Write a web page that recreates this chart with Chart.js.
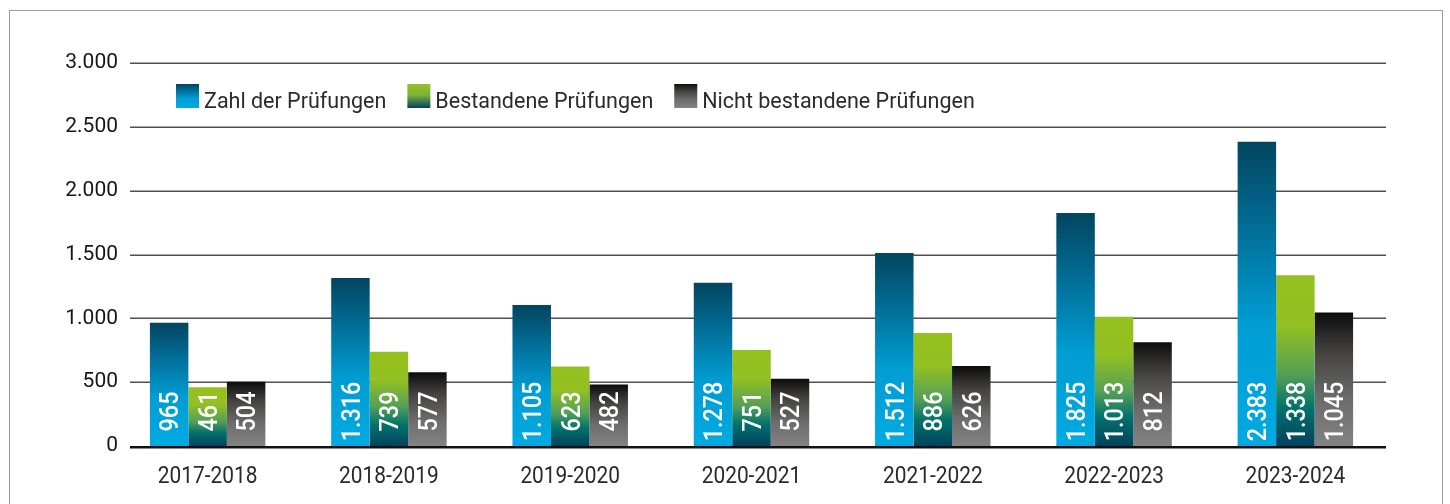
<!DOCTYPE html>
<html>
<head>
<meta charset="utf-8">
<script src="https://cdn.jsdelivr.net/npm/chart.js@4.4.1/dist/chart.umd.min.js"></script>
<style>
  html, body { margin: 0; padding: 0; background: #fff; overflow: hidden; }
  #wrap { position: relative; width: 1450px; height: 504px; }
  #frame { position: absolute; left: 9px; top: 10px; width: 1434px; height: 600px; border: 1.5px solid #9c9c9c; box-sizing: border-box; }
  canvas { position: absolute; left: 0; top: 0; }
</style>
</head>
<body>
<div id="wrap">
  <div id="frame"></div>
  <canvas id="c" width="1450" height="504"></canvas>
</div>
<script>
const categories = ['2017-2018', '2018-2019', '2019-2020', '2020-2021', '2021-2022', '2022-2023', '2023-2024'];
const seriesNames = ['Zahl der Prüfungen', 'Bestandene Prüfungen', 'Nicht bestandene Prüfungen'];
const zahlDerPruefungen = [965, 1316, 1105, 1278, 1512, 1825, 2383];
const bestandenePruefungen = [461, 739, 623, 751, 886, 1013, 1338];
const nichtBestandenePruefungen = [504, 577, 482, 527, 626, 812, 1045];
const yTicks = [0, 500, 1000, 1500, 2000, 2500, 3000];

function fmt(v) {
  return String(Math.round(v)).replace(/\B(?=(\d{3})+(?!\d))/g, '.');
}

const gradStops = [
  [[0, '#03455f'], [0.3, '#02709a'], [0.6, '#009dd3'], [1, '#00aae1']],
  [[0, '#95c11f'], [0.3, '#92bf22'], [0.58, '#55a057'], [0.78, '#00716c'], [1, '#03425e']],
  [[0, '#0c0c0c'], [0.3, '#454342'], [0.65, '#6c6c6c'], [1, '#838383']]
];
const solid = ['#0090c4', '#7bb535', '#555'];

function makeGrad(ctx, stops, y0, y1) {
  const g = ctx.createLinearGradient(0, y0, 0, y1);
  stops.forEach(s => g.addColorStop(s[0], s[1]));
  return g;
}

function barBg(idx) {
  return function (context) {
    const chart = context.chart;
    const ys = chart.scales && chart.scales.y;
    if (!ys || context.raw === undefined || !chart.chartArea) return solid[idx];
    const top = ys.getPixelForValue(context.raw);
    const base = ys.getPixelForValue(0);
    if (!isFinite(top) || !isFinite(base) || base - top < 1) return solid[idx];
    return makeGrad(chart.ctx, gradStops[idx], top, base);
  };
}

const gridPlugin = {
  id: 'customGrid',
  beforeDatasetsDraw(chart) {
    const { ctx, chartArea, scales } = chart;
    ctx.save();
    ctx.strokeStyle = '#4f4f4f';
    ctx.lineWidth = 1.6;
    yTicks.forEach(v => {
      if (v === 0) return;
      const y = Math.round(scales.y.getPixelForValue(v)) + 0.2;
      ctx.beginPath();
      ctx.moveTo(130, y);
      ctx.lineTo(chartArea.right, y);
      ctx.stroke();
    });
    // category labels (slightly condensed face)
    const xs = scales.x;
    ctx.fillStyle = '#2a2a2a';
    ctx.font = '24px Roboto';
    ctx.textAlign = 'center';
    ctx.textBaseline = 'alphabetic';
    categories.forEach((c, i) => {
      const px = xs.getPixelForTick(i);
      ctx.save();
      ctx.translate(px, chartArea.bottom + 37);
      ctx.scale(0.87, 1);
      ctx.fillText(c, 0, 0);
      ctx.restore();
    });
    ctx.restore();
  },
  afterDatasetsDraw(chart) {
    const { ctx, chartArea, scales } = chart;
    ctx.save();
    // baseline
    const y0 = scales.y.getPixelForValue(0);
    ctx.strokeStyle = '#111';
    ctx.lineWidth = 2.6;
    ctx.beginPath();
    ctx.moveTo(130, y0 + 1.3);
    ctx.lineTo(chartArea.right, y0 + 1.3);
    ctx.stroke();
    // value labels
    ctx.fillStyle = '#ffffff';
    ctx.font = '500 26px Roboto';
    ctx.textAlign = 'center';
    ctx.textBaseline = 'alphabetic';
    chart.data.datasets.forEach((ds, di) => {
      const meta = chart.getDatasetMeta(di);
      meta.data.forEach((bar, i) => {
        ctx.save();
        ctx.translate(bar.x + 9.3, y0 - 34.5);
        ctx.rotate(-Math.PI / 2);
        ctx.scale(0.9, 1);
        ctx.fillText(fmt(ds.data[i]), 0, 0);
        ctx.restore();
      });
    });
    // legend
    ctx.font = '21.5px Roboto';
    ctx.textAlign = 'left';
    let x = 176;
    const boxTop = 84, boxH = 24, boxW = 23;
    chart.data.datasets.forEach((ds, di) => {
      ctx.fillStyle = makeGrad(ctx, di === 1 ? [[0, '#95c11f'], [0.45, '#7db43a'], [1, '#02425e']] : gradStops[di], boxTop, boxTop + boxH);
      ctx.fillRect(x, boxTop, boxW, boxH);
      ctx.fillStyle = '#2b2b2b';
      ctx.fillText(ds.label, x + boxW + 5, boxTop + boxH);
      const w = ctx.measureText(ds.label).width;
      x = x + boxW + 5 + w + 21;
    });
    ctx.restore();
  }
};

const chart = new Chart(document.getElementById('c'), {
  type: 'bar',
  data: {
    labels: categories,
    datasets: [
      { label: seriesNames[0], data: zahlDerPruefungen, backgroundColor: barBg(0), borderWidth: 0 },
      { label: seriesNames[1], data: bestandenePruefungen, backgroundColor: barBg(1), borderWidth: 0 },
      { label: seriesNames[2], data: nichtBestandenePruefungen, backgroundColor: barBg(2), borderWidth: 0 }
    ]
  },
  options: {
    responsive: false,
    animation: false,
    devicePixelRatio: 1,
    layout: { padding: { top: 63, right: 64, left: 0, bottom: 0 } },
    datasets: { bar: { barPercentage: 1, categoryPercentage: 0.637 } },
    plugins: { legend: { display: false }, tooltip: { enabled: false } },
    scales: {
      x: {
        grid: { display: false, drawTicks: false },
        border: { display: false },
        ticks: { display: false },
        afterFit(s) { s.height = 58; }
      },
      y: {
        min: 0, max: 3000,
        afterBuildTicks(s) { s.ticks = yTicks.map(v => ({ value: v })); },
        grid: { display: false, drawTicks: false },
        border: { display: false },
        ticks: { color: '#161616', font: { family: 'Roboto', size: 21 }, padding: -1, callback: v => fmt(v) },
        afterFit(s) { s.width = 117; }
      }
    }
  },
  plugins: [gridPlugin]
});
</script>
</body>
</html>
